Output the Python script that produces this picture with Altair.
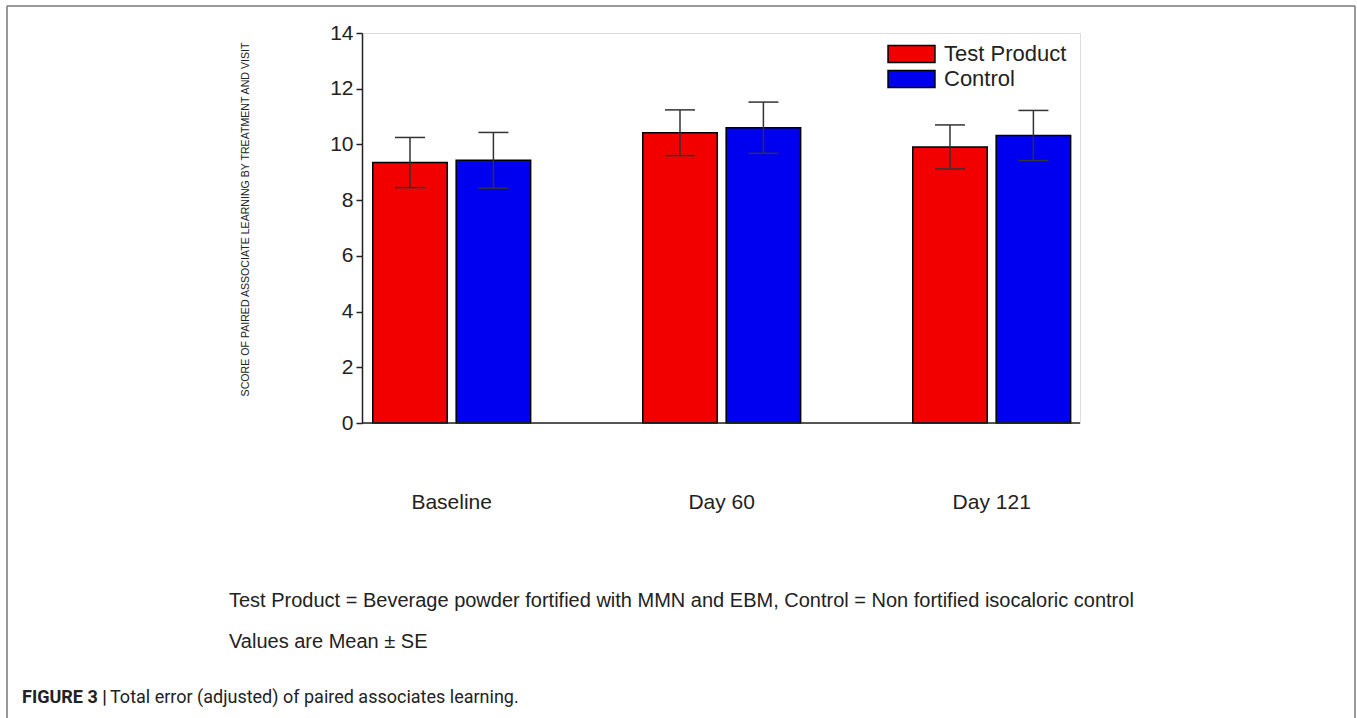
import altair as alt
import pandas as pd

# Paired associates learning: total error (adjusted), mean ± SE by visit
visits = ["Baseline", "Day 60", "Day 121"]
groups = ["Test Product", "Control"]
test_mean = [9.35, 10.42, 9.91]
test_se = [0.90, 0.82, 0.79]
ctrl_mean = [9.43, 10.60, 10.32]
ctrl_se = [1.00, 0.92, 0.90]
y_ticks = [0, 2, 4, 6, 8, 10, 12, 14]

colors = ["#f20000", "#0000f0"]
y_title = "SCORE OF PAIRED ASSOCIATE LEARNING BY TREATMENT AND VISIT"
note_1 = "Test Product = Beverage powder fortified with MMN and EBM, Control = Non fortified isocaloric control"
note_2 = "Values are Mean \u00b1 SE"
caption_bold = "FIGURE 3 |"
caption_text = "Total error (adjusted) of paired associates learning."

rows = []
for i, v in enumerate(visits):
    rows.append({"visit": v, "group": groups[0], "mean": test_mean[i], "se": test_se[i]})
    rows.append({"visit": v, "group": groups[1], "mean": ctrl_mean[i], "se": ctrl_se[i]})
df = pd.DataFrame(rows)
df["lo"] = df["mean"] - df["se"]
df["hi"] = df["mean"] + df["se"]

W, H = 718, 390
PAD = {"left": 362, "top": 33, "right": 277, "bottom": 295}
FONT = "Arial, Liberation Sans, sans-serif"
INK = "#222222"

x_enc = alt.X(
    "visit:N",
    sort=visits,
    scale=alt.Scale(domain=visits, range=[-45.3, 764.7], paddingInner=0, paddingOuter=0),
    axis=alt.Axis(
        title=None, domain=False, ticks=False, labelAngle=0,
        labelFont=FONT, labelFontSize=21, labelColor=INK, labelPadding=68,
    ),
)
off_enc = alt.XOffset(
    "group:N",
    sort=groups,
    scale=alt.Scale(domain=groups, paddingInner=0.107, paddingOuter=0.672),
)
y_scale = alt.Scale(domain=[0, 14], nice=False, zero=True)

base = alt.Chart(df)

bars = base.mark_bar(stroke="black", strokeWidth=1.5).encode(
    x=x_enc,
    xOffset=off_enc,
    y=alt.Y(
        "mean:Q",
        scale=y_scale,
        axis=alt.Axis(
            values=y_ticks, grid=False, tickSize=6, tickWidth=1.5, tickColor=INK,
            domainColor=INK, domainWidth=1.5, labelFont=FONT, labelFontSize=21,
            labelColor=INK, labelPadding=3,
            title=y_title, titleFont=FONT, titleFontSize=10.6, titleFontWeight="normal",
            titleColor=INK, titleAngle=-90, titleX=-117, titleY=186,
            titleAlign="center", titleBaseline="middle",
        ),
    ),
    color=alt.Color(
        "group:N",
        sort=groups,
        scale=alt.Scale(domain=groups, range=colors),
        legend=alt.Legend(
            title=None, orient="none", legendX=538.5, legendY=10, direction="vertical",
            symbolType="M-2.76,-1L2.76,-1L2.76,1L-2.76,1Z", symbolSize=289,
            symbolStrokeColor="black", symbolStrokeWidth=1.5, symbolOpacity=1,
            labelFont=FONT, labelFontSize=22, labelColor=INK, labelOffset=21.5,
            rowPadding=1, padding=0,
        ),
    ),
)

whisk = base.mark_rule(color="#333333", strokeWidth=1.5).encode(
    x=x_enc, xOffset=off_enc, y=alt.Y("lo:Q", scale=y_scale), y2="hi:Q"
)
cap_hi = base.mark_tick(color="#333333", thickness=1.5, size=30, opacity=1).encode(
    x=x_enc, xOffset=off_enc, y=alt.Y("hi:Q", scale=y_scale)
)
cap_lo = base.mark_tick(color="#333333", thickness=1.5, size=30, opacity=1).encode(
    x=x_enc, xOffset=off_enc, y=alt.Y("lo:Q", scale=y_scale)
)

one = alt.Chart(pd.DataFrame({"k": [0]}))
x_line = one.mark_rule(color=INK, strokeWidth=1.5).encode(
    x=alt.value(0), x2=alt.value(W), y=alt.datum(0, scale=y_scale)
)

# outer figure frame
frame_col = "#777777"
frame_top = one.mark_rule(color=frame_col, strokeWidth=1.5).encode(
    x=alt.value(-355), x2=alt.value(993), y=alt.value(-27)
)
frame_left = one.mark_rule(color=frame_col, strokeWidth=1.5).encode(
    x=alt.value(-355), y=alt.value(-27), y2=alt.value(700)
)
frame_right = one.mark_rule(color=frame_col, strokeWidth=1.5).encode(
    x=alt.value(993), y=alt.value(-27), y2=alt.value(700)
)

def label(text, x, y, size, font=FONT, weight="normal"):
    return alt.Chart(pd.DataFrame({"t": [text]})).mark_text(
        align="left", baseline="middle", font=font, fontSize=size,
        fontWeight=weight, color=INK,
    ).encode(text="t:N", x=alt.value(x), y=alt.value(y))

notes = [
    label(note_1, -133, 568, 20),
    label(note_2, -133, 609, 20),
    label(caption_bold, -340, 665, 18, font="Roboto", weight="bold"),
    label(caption_text, -252, 665, 18, font="Roboto"),
]

chart = alt.layer(
    frame_top, frame_left, frame_right, bars, whisk, cap_hi, cap_lo, x_line, *notes
).properties(
    width=W, height=H, padding=PAD,
    autosize=alt.AutoSizeParams(type="none"),
).configure_view(stroke=None).configure(background="white")

chart.save("out.html", embed_options={"renderer": "svg", "actions": False})
